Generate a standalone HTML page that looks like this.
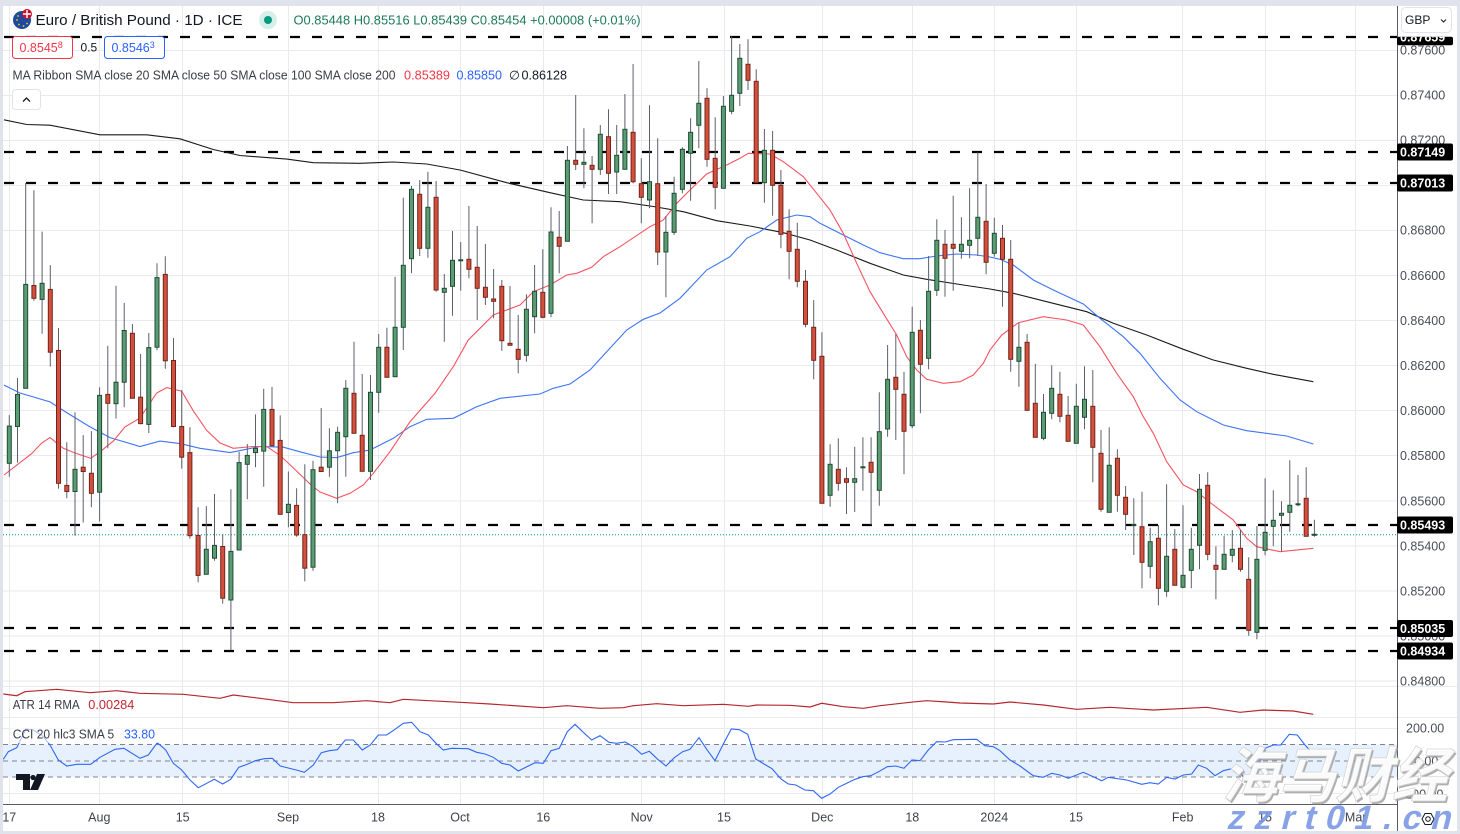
<!DOCTYPE html>
<html><head><meta charset="utf-8"><style>html,body{margin:0;padding:0;background:#fff}svg{display:block}</style></head><body>
<svg width="1460" height="834" viewBox="0 0 1460 834" xmlns="http://www.w3.org/2000/svg" font-family="'Liberation Sans', Arial, sans-serif">
<defs><clipPath id="topclip"><rect x="1397" y="36.7" width="60" height="10"/></clipPath></defs>
<rect width="1460" height="834" fill="#e0e3eb"/>
<rect x="3" y="6" width="1454" height="825" fill="#fff"/>
<!-- grid -->
<g stroke="#e9eaef" stroke-width="1">
<path d="M9.5 6V804M99.5 6V804M182.5 6V804M288.5 6V804M378.5 6V804M460.5 6V804M543.5 6V804M641.5 6V804M724.5 6V804M822.5 6V804M912.5 6V804M994.5 6V804M1076.5 6V804M1182.5 6V804M1265.5 6V804M1355.5 6V804"/>
<path d="M3 50.5H1397M3 95.5H1397M3 140.5H1397M3 185.5H1397M3 230.5H1397M3 275.5H1397M3 320.5H1397M3 365.5H1397M3 410.5H1397M3 455.5H1397M3 501H1397M3 546H1397M3 591H1397M3 636H1397M3 681H1397M3 728.5H1397M3 793.5H1397"/>
<path d="M3 686.5H1457M3 717.5H1457"/>
</g>
<!-- CCI band -->
<rect x="3" y="744.5" width="1394" height="32.5" fill="#e7f1fd"/>
<g stroke="#80838e" stroke-width="1" stroke-dasharray="5 4"><path d="M3 744.5H1397M3 761H1397M3 777H1397"/></g>
<!-- horizontal dashed levels -->
<g stroke="#000" stroke-width="2.2" stroke-dasharray="10 12"><path d="M4 37H1397M4 152H1397M4 183H1397M4 525H1397M4 628H1397M4 651H1397"/></g>
<path d="M3 534.7H1397" stroke="#089981" stroke-width="1" stroke-dasharray="1 2"/>
<!-- MA lines -->
<polyline fill="none" stroke="#1a1a1a" stroke-width="1.1" points="4,119.8 26.7,124.5 50,125.2 100,134.8 146.7,134.8 180,138.8 213.3,149.5 240,155.5 286.7,159.1 313.3,162.7 360,163.3 393.3,162 426.7,164 460,170 506.7,182.7 550,192.7 583.3,200 620,201.7 653.3,206.5 683.3,211.7 716.7,220.7 750,226 783.3,232.7 810,240 836.7,250 870,263.3 903.3,275 926.7,279.3 963.3,285 990,289 1013.3,293.3 1046.7,301.7 1086.7,311.7 1113.3,323.3 1146.7,335 1183.3,349.3 1213.3,360 1246.7,368.3 1273.3,374.3 1313.3,381.7"/>
<polyline fill="none" stroke="#3d74f6" stroke-width="1.1" points="4,385.1 20,393 50,401.9 66.7,412.6 90,426.9 110,437.6 140,446.5 160,441.1 180,443.6 200,448.3 230,452.6 260,446.5 283.3,447.2 300,451.8 320,457 336.7,457.7 353.3,452.7 370,450 393.3,438.3 410,426.7 426.7,419.3 453.3,418.3 476.7,406.7 500,398.3 540,394 553.3,388.3 570,384 590,370 606.7,351.7 626.7,330 643.3,319.3 660,313 680,298.3 706.7,270 730,256.7 746.7,238.3 760,231.7 776.7,220 796.7,215 810,216.7 820,223.3 843.3,235 863.3,245 880,252.7 903.3,258.7 920,258.7 936.7,256 956.7,254 976.7,255 990,257 1000,259.3 1013.3,265 1033.3,280 1053.3,290 1083.3,304 1100,318.3 1123.3,336.7 1140,353.3 1160,378.3 1180,400 1196.7,411.7 1223.3,425 1246.7,430.7 1286.7,436 1313.3,444"/>
<polyline fill="none" stroke="#f5535f" stroke-width="1.1" points="4,475 31.7,453.6 41.7,443 50,437.6 63.3,448.3 75,453 90.7,458.3 100,451.8 113.3,441.1 125,426.9 140,418 156.7,393 166.7,387.6 181.7,391.2 193.3,410.8 206.7,430.4 220,443 233.3,448.3 253.3,446.5 266.7,446.5 280,455.4 293.3,467.9 310,484 320,492 336.7,498.3 350,493.3 363.3,485 373.3,473.3 390,451.7 410,421.7 435,393.3 453.3,366.7 468.3,340 480,328.3 493.3,315 506.7,310 520,305 533.3,291.7 550,285 566.7,275 576.7,273.3 591.7,267.3 603.3,256.7 620,246.7 640,233.3 650,226.7 663.3,220 676.7,203.3 690,190 706.7,174 726.7,165 740,158.3 748.3,153.3 770,154 783.3,161.7 803.3,176.7 816.7,193.3 830,210 843.3,233.3 856.7,263.3 870,291.7 883.3,313.3 896.7,335 906.7,356.7 916.7,370 926.7,379.3 943.3,383.3 960,381.7 973.3,375 983.3,363.3 990,350 1001.7,335 1018.3,322.7 1043.3,316.7 1066.7,320 1083.3,325 1100,346.7 1116.7,373.3 1133.3,396.7 1143.3,416.7 1153.3,433.3 1166.7,461.7 1183.3,485 1196.7,491.7 1213.3,505 1233.3,520 1246.7,538.3 1256.7,546.7 1280,551.7 1313.3,548.3"/>
<!-- wicks -->
<path stroke="#5d606b" stroke-width="1" fill="none" d="M9.3 415.1V476.8M17.5 378V462.6M25.7 183V388.3M33.9 190.2V300.8M42.1 231.6V333.7M50.3 265.1V366.5M58.5 328V488.6M66.8 442.2V498.3M75 412.2V535.7M83.2 435.1V522.5M91.4 431.1V507.2M99.6 387.2V521.5M107.8 345.8V448.3M116 285.8V418.6M124.2 303V407.2M132.4 324V398.3M140.6 354V424.4M148.8 333V433M157 263.3V350.1M165.3 256.2V368.7M173.5 338V427.2M181.7 390.1V468.6M189.9 427.2V538.6M198.1 507.2V582.2M206.3 506.1V574.3M214.5 494V560.7M222.7 534V603.6M230.9 489.3V650M239.1 451.8V550M247.3 444V499.3M255.5 414.4V467.2M263.7 388.7V486.8M272 386.9V445.8M280.2 415.4V514.3M288.4 471.5V527.2M296.6 488.3V536.8M304.8 464.3V581.4M313 460.8V570.7M321.2 408V471.5M329.4 428.3V476.7M337.6 426.7V503.3M345.8 380V476.7M354 341.7V433.3M362.2 374V471.3M370.5 375V480M378.7 334V412.7M386.9 327.7V377.3M395.1 276.7V376.7M403.3 197.7V350M411.5 186V273.3M419.7 180V256M427.9 171.7V257.7M436.1 181V291.7M444.3 274V341.7M452.5 231V315.7M460.7 242V290.7M468.9 206V278.3M477.2 226V320M485.4 244V305M493.6 269V318.3M501.8 280V350.7M510 286V345.3M518.2 315V373.3M526.4 294.3V361.7M534.6 265V333.3M542.8 249.3V318.3M551 207.3V317.3M559.2 211V273.3M567.4 146V241.3M575.7 95V170M583.9 128.3V188.3M592.1 156V223.3M600.3 125V175M608.5 109.3V194M616.7 125V194M624.9 94V169.3M633.1 64V183.3M641.3 158.3V223.3M649.5 105.3V208.3M657.7 138.3V265M665.9 216V297.3M674.1 176.7V235M682.4 147.3V193.3M690.6 118.3V200.7M698.8 61V148.3M707 88.3V166.7M715.2 117.3V209.3M723.4 96V188.3M731.6 36.7V114.3M739.8 44V106M748 39.3V90M756.2 69.3V182.7M764.4 129V202.7M772.6 131V215.7M780.9 170V248.3M789.1 209.3V279.3M797.3 222.7V287.3M805.5 270V327.3M813.7 300V379.3M821.9 332.3V503.3M830.1 444.3V506.7M838.3 438.3V490.7M846.5 467.3V514M854.7 446.7V512M862.9 437.3V490.7M871.1 437.3V525M879.3 392.3V505.7M887.6 345V436.7M895.8 334V440M904 371.7V474.3M912.2 306.7V428.3M920.4 320V413.3M928.6 256V369.3M936.8 219.3V296M945 230V296.7M953.2 195.7V290.7M961.4 217.3V258.7M969.6 188.3V258.3M977.8 152.3V256M986.1 184V274.3M994.3 217.7V256.7M1002.5 225V306.7M1010.7 240V371.7M1018.9 322.7V386.7M1027.1 334V410.3M1035.3 363.7V437.3M1043.5 394V440.3M1051.7 365.3V419.3M1059.9 371.7V422.3M1068.1 396V441.3M1076.3 383.7V443.3M1084.5 366.3V429.3M1092.8 370V482.3M1101 430V511.7M1109.2 427.3V512.3M1117.4 449.3V511.7M1125.6 486V530M1133.8 498.3V555M1142 491.7V588.3M1150.2 527.7V578.3M1158.4 525V605.3M1166.6 484.3V596.7M1174.8 529V585.3M1183 505.3V588.3M1191.3 527.7V588.3M1199.5 474V569.3M1207.7 472.3V560.3M1215.9 546.3V599.3M1224.1 535.7V569.3M1232.3 530V562.3M1240.5 530V571.7M1248.7 557.3V635.7M1256.9 526V639.3M1265.1 478.3V555.3M1273.3 490.3V546.3M1281.5 501.3V551.3M1289.8 460.3V531.7M1298 475V506.3M1306.2 467.3V536.3M1314.4 519.7V536.7"/>
<!-- red bodies -->
<g fill="#d4503e" stroke="#74241a" stroke-width="1">
<rect x="31.9" y="285.5" width="4" height="12.8"/><rect x="48.3" y="289.4" width="4" height="62.8"/><rect x="56.5" y="350.5" width="4" height="132.8"/><rect x="64.8" y="485.4" width="4" height="6.1"/><rect x="81.2" y="467.2" width="4" height="4.3"/><rect x="89.4" y="473.3" width="4" height="20"/><rect x="105.8" y="394.4" width="4" height="8.9"/><rect x="130.4" y="333.3" width="4" height="65"/><rect x="138.6" y="397.2" width="4" height="26.4"/><rect x="163.3" y="274.4" width="4" height="86.4"/><rect x="171.5" y="360.5" width="4" height="66"/><rect x="179.7" y="426.5" width="4" height="30.7"/><rect x="187.9" y="452.6" width="4" height="83.1"/><rect x="196.1" y="535.4" width="4" height="40"/><rect x="220.7" y="546.5" width="4" height="51.7"/><rect x="270" y="409.4" width="4" height="36.4"/><rect x="278.2" y="440.4" width="4" height="73.9"/><rect x="294.6" y="505.4" width="4" height="29.6"/><rect x="302.8" y="534.7" width="4" height="33.5"/><rect x="319.2" y="467.2" width="4" height="4.3"/><rect x="352" y="393.3" width="4" height="40"/><rect x="360.2" y="435.3" width="4" height="36"/><rect x="384.9" y="347.3" width="4" height="30"/><rect x="417.7" y="194.3" width="4" height="54"/><rect x="434.1" y="197.3" width="4" height="92.7"/><rect x="466.9" y="259.3" width="4" height="10"/><rect x="475.2" y="267.3" width="4" height="21"/><rect x="483.4" y="287.3" width="4" height="10"/><rect x="491.6" y="299" width="4" height="2.3"/><rect x="499.8" y="286.3" width="4" height="54.4"/><rect x="508" y="343.3" width="4" height="2"/><rect x="516.2" y="349.3" width="4" height="10"/><rect x="540.8" y="292.3" width="4" height="25"/><rect x="557.2" y="237.3" width="4" height="9"/><rect x="573.7" y="160.3" width="4" height="4"/><rect x="590.1" y="165.3" width="4" height="4"/><rect x="606.5" y="136.7" width="4" height="36.6"/><rect x="631.1" y="132.3" width="4" height="49.4"/><rect x="639.3" y="183.7" width="4" height="13.6"/><rect x="655.7" y="183.7" width="4" height="68.3"/><rect x="705" y="98.3" width="4" height="61"/><rect x="713.2" y="158.3" width="4" height="29"/><rect x="746" y="64.3" width="4" height="16"/><rect x="754.2" y="81.3" width="4" height="101.4"/><rect x="770.6" y="150.3" width="4" height="35"/><rect x="778.9" y="185.3" width="4" height="49"/><rect x="787.1" y="231.3" width="4" height="20"/><rect x="795.3" y="249.3" width="4" height="32"/><rect x="803.5" y="281.3" width="4" height="43"/><rect x="811.7" y="327.3" width="4" height="33"/><rect x="819.9" y="356.3" width="4" height="147"/><rect x="836.3" y="469.3" width="4" height="14"/><rect x="844.5" y="478.7" width="4" height="3.6"/><rect x="869.1" y="462.3" width="4" height="10"/><rect x="893.8" y="377.3" width="4" height="12"/><rect x="902" y="394.3" width="4" height="37"/><rect x="918.4" y="330.3" width="4" height="34"/><rect x="943" y="244.3" width="4" height="14"/><rect x="951.2" y="244.3" width="4" height="4"/><rect x="984.1" y="221.3" width="4" height="41"/><rect x="1000.5" y="238.3" width="4" height="21"/><rect x="1008.7" y="259.3" width="4" height="100"/><rect x="1025.1" y="342.3" width="4" height="68"/><rect x="1033.3" y="403.3" width="4" height="34"/><rect x="1057.9" y="394.3" width="4" height="22"/><rect x="1066.1" y="415.3" width="4" height="26"/><rect x="1090.8" y="406.3" width="4" height="41"/><rect x="1099" y="453.3" width="4" height="56"/><rect x="1115.4" y="458.3" width="4" height="37"/><rect x="1123.6" y="497.3" width="4" height="17"/><rect x="1140" y="526.7" width="4" height="35.6"/><rect x="1156.4" y="538.3" width="4" height="50"/><rect x="1172.8" y="549.3" width="4" height="36"/><rect x="1205.7" y="485.3" width="4" height="69"/><rect x="1213.9" y="565.3" width="4" height="4"/><rect x="1238.5" y="548.3" width="4" height="21"/><rect x="1246.7" y="579.3" width="4" height="51"/><rect x="1304.2" y="498.3" width="4" height="38"/>
</g>
<!-- green bodies -->
<g fill="#5b9c74" stroke="#1f4d33" stroke-width="1">
<rect x="7.3" y="426.1" width="4" height="37.2"/><rect x="15.5" y="394.4" width="4" height="32.1"/><rect x="23.7" y="284.4" width="4" height="103.9"/><rect x="40.1" y="283.3" width="4" height="16.1"/><rect x="73" y="469.3" width="4" height="22.2"/><rect x="97.6" y="395.4" width="4" height="96.8"/><rect x="114" y="382.2" width="4" height="21.5"/><rect x="122.2" y="330.5" width="4" height="51.7"/><rect x="146.8" y="347.6" width="4" height="76.8"/><rect x="155" y="277.6" width="4" height="69.6"/><rect x="204.3" y="549.3" width="4" height="25"/><rect x="212.5" y="545.4" width="4" height="12.8"/><rect x="228.9" y="551.4" width="4" height="48.6"/><rect x="237.1" y="462.6" width="4" height="87.4"/><rect x="245.3" y="455.4" width="4" height="8.9"/><rect x="253.5" y="448.3" width="4" height="4.3"/><rect x="261.7" y="409.4" width="4" height="41.7"/><rect x="286.4" y="504.3" width="4" height="8.2"/><rect x="311" y="469.7" width="4" height="97.5"/><rect x="327.4" y="450.8" width="4" height="16.4"/><rect x="335.6" y="432.3" width="4" height="18.4"/><rect x="343.8" y="388.3" width="4" height="48.4"/><rect x="368.5" y="392.3" width="4" height="79"/><rect x="376.7" y="347.3" width="4" height="45"/><rect x="393.1" y="327.3" width="4" height="49.4"/><rect x="401.3" y="265.3" width="4" height="62"/><rect x="409.5" y="189.3" width="4" height="69.4"/><rect x="425.9" y="207.3" width="4" height="41"/><rect x="442.3" y="288.3" width="4" height="4"/><rect x="450.5" y="260.3" width="4" height="26"/><rect x="458.7" y="259.8" width="4" height="1"/><rect x="524.4" y="309.3" width="4" height="46"/><rect x="532.6" y="291.3" width="4" height="25.4"/><rect x="549" y="232" width="4" height="81.3"/><rect x="565.4" y="160.3" width="4" height="81"/><rect x="581.9" y="162.3" width="4" height="2"/><rect x="598.3" y="134.3" width="4" height="35"/><rect x="614.7" y="155.3" width="4" height="16.7"/><rect x="622.9" y="129.3" width="4" height="40"/><rect x="647.5" y="181.7" width="4" height="18.3"/><rect x="663.9" y="232.3" width="4" height="19.7"/><rect x="672.1" y="193.3" width="4" height="39"/><rect x="680.4" y="149.3" width="4" height="40"/><rect x="688.6" y="132.3" width="4" height="21"/><rect x="696.8" y="103.3" width="4" height="22"/><rect x="721.4" y="106.3" width="4" height="82"/><rect x="729.6" y="95.3" width="4" height="16"/><rect x="737.8" y="58.3" width="4" height="35"/><rect x="762.4" y="150.3" width="4" height="32.4"/><rect x="828.1" y="464.3" width="4" height="31"/><rect x="852.7" y="478.7" width="4" height="3.6"/><rect x="860.9" y="466.8" width="4" height="1"/><rect x="877.3" y="431.7" width="4" height="58.6"/><rect x="885.6" y="379.3" width="4" height="49.7"/><rect x="910.2" y="332.3" width="4" height="93.4"/><rect x="926.6" y="291.3" width="4" height="67"/><rect x="934.8" y="240.3" width="4" height="50"/><rect x="959.4" y="244.3" width="4" height="7"/><rect x="967.6" y="240.3" width="4" height="5"/><rect x="975.8" y="217.3" width="4" height="21"/><rect x="992.3" y="233.3" width="4" height="20"/><rect x="1016.9" y="347.3" width="4" height="14"/><rect x="1041.5" y="412.3" width="4" height="26"/><rect x="1049.7" y="388.3" width="4" height="25"/><rect x="1074.3" y="406.3" width="4" height="37"/><rect x="1082.5" y="399.3" width="4" height="18"/><rect x="1107.2" y="465.3" width="4" height="47"/><rect x="1131.8" y="524.5" width="4" height="1"/><rect x="1148.2" y="541.7" width="4" height="24.6"/><rect x="1164.6" y="556.3" width="4" height="35"/><rect x="1181" y="575.3" width="4" height="12"/><rect x="1189.3" y="549.3" width="4" height="21"/><rect x="1197.5" y="489.3" width="4" height="56"/><rect x="1222.1" y="554.3" width="4" height="15"/><rect x="1230.3" y="549.3" width="4" height="6"/><rect x="1254.9" y="559.3" width="4" height="73"/><rect x="1263.1" y="532.3" width="4" height="18"/><rect x="1271.3" y="520.3" width="4" height="6"/><rect x="1279.5" y="513.3" width="4" height="2"/><rect x="1287.8" y="505.3" width="4" height="7"/><rect x="1296" y="503.8" width="4" height="1"/><rect x="1312.4" y="534.3" width="4" height="1"/>
</g>
<!-- ATR -->
<polyline fill="none" stroke="#b5272f" stroke-width="1.2" points="3.3,694 16.7,695.7 25,691.7 56.7,689.3 90,692.7 116.7,690.7 140,693.3 183.3,694.3 220,698.3 233.3,695 260,698.3 293.3,702.7 333.3,702.7 366.7,700.7 390,702.7 403.3,699.3 460,702.3 490,704 543.3,707.7 566.7,705.7 600,708.3 623.3,707.7 633.3,705.7 656.7,703.7 683.3,705.7 723.3,704.3 748.3,706.3 756.7,705 790,705.3 810,707 821.7,703.3 843.3,706.7 863.3,708.3 880,705.7 910,702.3 926.7,700.7 946.7,702 960,703 993.3,704 1010,702 1043.3,705 1076.7,709.3 1110,707.3 1153.3,710 1206.7,707.3 1240,712.3 1263.3,710 1293.3,711 1313.3,714.3"/>
<!-- CCI -->
<polyline fill="none" stroke="#2f66f5" stroke-width="1.1" points="3.3,759.3 8.3,751.7 16.7,747.7 26,729 33.3,730 43.3,736.7 50,745 58.3,760 66.7,766 76.7,764.3 90.7,764.3 100,757.3 115,749.3 124,748.3 140,758.3 148.3,755 157.3,742.7 165.7,750 173.3,763.3 181.7,770 190,780 198.3,787.7 206.7,783.3 214.3,779.3 222.7,784 230.7,779.3 238.7,767.3 247.3,764.3 255.3,760.7 264.3,758.7 272.3,758.3 280.3,766 288.3,768 296.3,770 304.3,772.3 313.3,765 321.3,752.7 329.3,750.7 337.3,749.7 345.3,740 353.3,740 362.3,750 370.3,745 378.3,735 386.7,735 395,729.3 403.3,723.3 411.7,722.3 420,731.7 428.3,735 436,743.3 443.3,750 451.7,748.3 468.3,748.7 476.7,752.3 485,754 493.3,757.3 501.7,763.3 510,765 518.3,771 535,762.7 543.3,763.3 551,750.7 559.3,748.3 567.3,731.7 575,724.3 583.3,732.3 591.7,740 600,735.7 609,742.3 616.7,743.3 625,742 633.3,746.7 641.7,754.3 649.3,751.3 657.7,759.3 666,766 674.3,757.7 682.7,751.7 690,749.3 699,737.7 706.7,749.3 715,760.7 723.3,744 731.3,729 739.3,729.7 747.7,734.3 755.7,759 764,764 772,768.7 781,779 788.3,784 796,785 804.7,790 813.3,790.7 821.7,798.3 830,794 838.3,787.3 846.7,783.3 855,779.3 862.7,776.7 870.7,775.7 878.7,771.7 887.3,766.7 895.7,766 904,768.3 912,760 920,760.7 928.3,750 936.7,741.7 945,742 953.3,739.7 976.7,739.3 985,745.7 993.3,746.7 1000,750.7 1010,760 1020,766 1033.3,775.7 1043.3,777.3 1051.7,773.3 1060,775 1068.3,778.3 1083.3,772.3 1093.3,776.7 1101.7,780.7 1108.3,777.3 1126.7,780 1141.7,784.3 1150,782.7 1158.3,784 1166.7,777.3 1175,779 1183.3,775 1191.7,774 1198.3,765 1206.7,768.3 1215,775.7 1223.3,770.7 1233.3,768.3 1240,771.7 1248.3,785 1256.7,770 1265,748.3 1273.3,745 1280.7,745 1289.3,734.3 1297.3,735 1305,745 1313.3,754"/>
<!-- axes lines -->
<path d="M1397.5 6V831" stroke="#5a5d68" stroke-width="1"/>
<path d="M3 804.5H1397" stroke="#5a5d68" stroke-width="1"/>
<!-- price axis labels -->
<g font-size="12.5" fill="#4a4d56">
<text x="1400" y="54.5">0.87600</text><text x="1400" y="99.5">0.87400</text><text x="1400" y="144.5">0.87200</text><text x="1400" y="234.5">0.86800</text><text x="1400" y="280">0.86600</text><text x="1400" y="325">0.86400</text><text x="1400" y="370">0.86200</text><text x="1400" y="415">0.86000</text><text x="1400" y="460">0.85800</text><text x="1400" y="505.5">0.85600</text><text x="1400" y="550.5">0.85400</text><text x="1400" y="595.5">0.85200</text><text x="1400" y="640.5">0.85000</text><text x="1400" y="685.5">0.84800</text>
<text x="1406" y="732.5">200.00</text><text x="1414" y="765.5">0.00</text><text x="1401" y="798.5">-200.00</text>
</g>
<!-- level label boxes -->
<g fill="#000">
<rect x="1397" y="36.7" width="56" height="8.5" rx="2"/>
<rect x="1397" y="143.5" width="56" height="17" rx="2"/>
<rect x="1397" y="174.5" width="56" height="17" rx="2"/>
<rect x="1397" y="516.5" width="56" height="17" rx="2"/>
<rect x="1397" y="620" width="56" height="17" rx="2"/>
<rect x="1397" y="642.5" width="56" height="17" rx="2"/>
</g>
<g font-size="12.5" font-weight="bold" fill="#fff">
<text x="1400" y="41.5" clip-path="url(#topclip)">0.87659</text>
<text x="1400" y="156.5">0.87149</text><text x="1400" y="187.5">0.87013</text><text x="1400" y="529.5">0.85493</text><text x="1400" y="633">0.85035</text><text x="1400" y="655.5">0.84934</text>
</g>
<!-- GBP button -->
<rect x="1401.5" y="7.5" width="50" height="25" rx="4" fill="#fff" stroke="#e0e3eb"/>
<text x="1405" y="24" font-size="12" fill="#131722">GBP</text>
<path d="M1441 19.5l2.5 2.5 2.5-2.5" stroke="#131722" fill="none" stroke-width="1"/>
<!-- time axis labels -->
<g font-size="12.5" fill="#3f424b" text-anchor="middle">
<text x="9.3" y="821.5">17</text><text x="99.3" y="821.5">Aug</text><text x="182.7" y="821.5">15</text><text x="288" y="821.5">Sep</text><text x="378" y="821.5">18</text><text x="460" y="821.5">Oct</text><text x="543.3" y="821.5">16</text><text x="641.7" y="821.5">Nov</text><text x="724" y="821.5">15</text><text x="822.3" y="821.5">Dec</text><text x="912.3" y="821.5">18</text><text x="994.3" y="821.5">2024</text><text x="1076" y="821.5">15</text><text x="1182.7" y="821.5">Feb</text><text x="1265" y="821.5">15</text><text x="1355.7" y="821.5">Mar</text>
</g>
<!-- settings icon -->
<path d="M1422 819l3-5.5h6l3 5.5-3 5.5h-6z" fill="none" stroke="#131722" stroke-width="1"/>
<circle cx="1428" cy="819" r="2.3" fill="none" stroke="#131722" stroke-width="1"/>
<!-- header -->
<circle cx="22" cy="20" r="9" fill="#1d4aa0"/>
<circle cx="27" cy="14" r="5" fill="#c8102e"/>
<path d="M23 14h8M27 10v8" stroke="#fff" stroke-width="1.4"/>
<g fill="#f5d000"><circle cx="17" cy="20" r="0.9"/><circle cx="19" cy="24.5" r="0.9"/><circle cx="23.5" cy="26" r="0.9"/><circle cx="27" cy="23.5" r="0.9"/><circle cx="18" cy="16" r="0.9"/></g>
<text x="35.5" y="25" font-size="15" fill="#131722" textLength="207" lengthAdjust="spacingAndGlyphs">Euro / British Pound · 1D · ICE</text>
<circle cx="268" cy="20" r="9" fill="#d6efe9"/>
<circle cx="268" cy="20" r="4" fill="#089981"/>
<text x="293.5" y="24.5" font-size="12.5" fill="#1d7a59" textLength="347" lengthAdjust="spacingAndGlyphs">O0.85448 H0.85516 L0.85439 C0.85454 +0.00008 (+0.01%)</text>
<rect x="12.5" y="36.5" width="60" height="22" rx="3" fill="#fff" stroke="#f23645"/>
<text x="19.5" y="52" font-size="12.5" fill="#f23645">0.8545<tspan font-size="9" dy="-4">8</tspan></text>
<text x="80.5" y="51.5" font-size="12" fill="#131722">0.5</text>
<rect x="104.5" y="36.5" width="60" height="22" rx="3" fill="#fff" stroke="#2962ff"/>
<text x="111.5" y="52" font-size="12.5" fill="#2962ff">0.8546<tspan font-size="9" dy="-4">3</tspan></text>
<text x="12.5" y="79.5" font-size="12.5" fill="#3a3d45" textLength="383" lengthAdjust="spacingAndGlyphs">MA Ribbon SMA close 20 SMA close 50 SMA close 100 SMA close 200</text>
<text x="404" y="79.5" font-size="12.5" fill="#f23645" textLength="46" lengthAdjust="spacingAndGlyphs">0.85389</text>
<text x="456.5" y="79.5" font-size="12.5" fill="#2962ff" textLength="45.5" lengthAdjust="spacingAndGlyphs">0.85850</text>
<text x="509" y="79.5" font-size="12.5" fill="#131722">∅</text>
<text x="521.5" y="79.5" font-size="12.5" fill="#131722" textLength="45.5" lengthAdjust="spacingAndGlyphs">0.86128</text>
<rect x="12.5" y="89.5" width="28" height="20" rx="3" fill="#fff" stroke="#e0e3eb"/>
<path d="M23 101.5l3.5-3.5 3.5 3.5" stroke="#131722" fill="none" stroke-width="1.3"/>
<!-- ATR / CCI labels -->
<text x="12.7" y="709" font-size="12.5" fill="#3a3d45" textLength="67" lengthAdjust="spacingAndGlyphs">ATR 14 RMA</text>
<text x="88.3" y="709" font-size="12.5" fill="#c2272d" textLength="46" lengthAdjust="spacingAndGlyphs">0.00284</text>
<rect x="10" y="726" width="148" height="17" fill="#fff" opacity="0.6"/>
<text x="12.7" y="738.5" font-size="12.5" fill="#3a3d45" textLength="101.5" lengthAdjust="spacingAndGlyphs">CCI 20 hlc3 SMA 5</text>
<text x="124" y="738.5" font-size="12.5" fill="#2962ff" textLength="31" lengthAdjust="spacingAndGlyphs">33.80</text>
<!-- TV logo -->
<path d="M16 774h14v16h-7v-10h-7z" fill="#131722"/>
<circle cx="33" cy="777.5" r="2.6" fill="#131722"/>
<path d="M37 774h8l-7 16h-8z" fill="#131722"/>
<!-- watermark -->
<g font-family="'Noto Sans CJK SC','WenQuanYi Zen Hei',sans-serif" font-weight="bold" font-size="60">
<text transform="translate(1222,797) skewX(-14)" fill="#9c9c9c" opacity="0.8" x="2" y="2" textLength="226" lengthAdjust="spacingAndGlyphs">海马财经</text>
<text transform="translate(1222,797) skewX(-14)" fill="#ffffff" stroke="#d2d2d2" stroke-width="0.8" opacity="0.95" x="0" y="0" textLength="226" lengthAdjust="spacingAndGlyphs">海马财经</text>
</g>
<text transform="translate(1226,829) skewX(-14)" font-family="'Liberation Sans',sans-serif" font-weight="bold" font-size="34" fill="#7b98e4" opacity="0.9" textLength="224" lengthAdjust="spacing">zzrt01.cn</text>
</svg>
</body></html>
